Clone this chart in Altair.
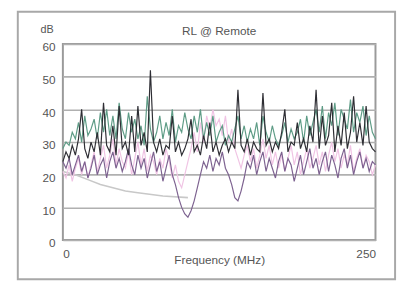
import altair as alt
import pandas as pd

freq = [i * 2.5 for i in range(101)]

dark = [24,27,25,29,26,31,40,28,25,30,
        27,33,26,42,29,27,35,26,41,28,
        30,26,38,27,41,29,33,27,52,30,
        27,31,26,29,28,38,27,30,26,28,
        31,37,27,29,26,32,28,36,27,30,
        26,29,31,27,30,28,46,29,27,31,
        26,30,28,27,45,29,31,27,30,28,
        33,40,27,30,29,36,28,31,27,35,
        30,46,28,38,29,32,42,27,35,29,
        39,28,33,44,30,36,29,41,30,28,
        27]

green = [28,30,29,33,31,36,30,38,32,34,
         37,31,39,33,40,32,38,31,42,34,
         31,39,33,37,31,35,29,44,34,30,
         33,38,31,36,32,40,30,35,33,39,
         34,31,38,33,40,31,36,32,38,30,
         33,35,29,32,30,34,38,31,35,30,
         34,31,36,29,38,33,30,35,31,29,
         32,36,30,34,31,33,37,30,38,32,
         36,40,33,41,31,39,35,42,32,40,
         37,34,43,33,39,36,41,32,38,33,
         31]

purple = [24,22,25,20,23,26,21,24,19,22,
          26,20,23,25,19,24,27,22,25,21,
          24,28,23,20,26,22,25,19,23,27,
          21,24,18,22,26,20,17,13,10,8,
          7,9,12,16,20,24,22,26,21,25,
          23,27,22,20,17,13,12,15,19,24,
          22,26,20,24,27,21,25,22,19,24,
          27,21,25,23,18,22,26,20,24,28,
          22,25,20,24,27,21,26,23,19,25,
          28,22,26,20,24,27,22,25,21,24,
          23]

pink = [21,19,23,18,22,25,20,24,19,23,
        27,21,25,29,22,26,31,23,28,24,
        22,27,20,25,30,23,28,21,26,24,
        20,25,22,28,24,19,23,18,16,20,
        24,28,33,27,36,30,38,34,40,35,
        37,32,38,30,34,28,25,22,26,29,
        24,28,22,26,31,25,29,23,27,22,
        26,21,25,29,23,27,20,24,28,22,
        25,29,23,27,21,26,30,24,28,22,
        26,23,29,21,25,28,22,26,24,20,
        23]

limit_freq = [0, 10, 20, 30, 40, 50, 60, 80, 100]
limit_db = [21, 20, 18.5, 17, 16, 15, 14.5, 13.5, 13]

y_ticks = [0, 10, 20, 30, 40, 50, 60]
x_ticks = [0, 250]

series_names = ["pink", "purple", "green", "dark"]
series_colors = ["#f0c4e4", "#7d6290", "#5e9c86", "#2e2e34"]

rows = []
for name, vals in zip(series_names, [pink, purple, green, dark]):
    for f, v in zip(freq, vals):
        rows.append({"f": f, "db": v, "s": name})
df = pd.DataFrame(rows)
lim = pd.DataFrame({"f": limit_freq, "db": limit_db})

W, H = 319, 200

xs = alt.Scale(domain=[0, 250], nice=False)
ys = alt.Scale(domain=[0, 60], nice=False)

x_axis = alt.Axis(values=x_ticks, title="Frequency (MHz)", grid=False,
                  ticks=False, domain=False, labelFont="Liberation Sans",
                  labelFontSize=12, labelColor="#555", labelPadding=14,
                  labelOverlap=False,
                  titleFont="Liberation Sans", titleFontSize=12,
                  titleFontWeight="normal", titleColor="#555",
                  titleY=20, titleBaseline="middle", labelBaseline="middle")
y_axis = alt.Axis(values=y_ticks, title=None, grid=True, gridColor="#b0b0b0",
                  gridWidth=1.6, ticks=False, domain=False,
                  labelFont="Liberation Sans", labelFontSize=12,
                  labelOverlap=False, labelOffset=3,
                  labelColor="#555", labelPadding=8)

limit_line = alt.Chart(lim).mark_line(color="#c8c8c8", strokeWidth=1.6).encode(
    x=alt.X("f:Q", scale=xs, axis=x_axis), y=alt.Y("db:Q", scale=ys, axis=y_axis)
)

lines = alt.Chart(df).mark_line(strokeWidth=1.2).encode(
    x=alt.X("f:Q", scale=xs, axis=x_axis),
    y=alt.Y("db:Q", scale=ys, axis=y_axis),
    color=alt.Color("s:N", scale=alt.Scale(domain=series_names, range=series_colors),
                    legend=None),
    order=alt.Order("s:N"),
)

frame = alt.Chart(pd.DataFrame({"a": [0]})).mark_rect(
    fill=None, stroke="#a8a8a8", strokeWidth=2
).encode(x=alt.value(-46), x2=alt.value(339), y=alt.value(-33), y2=alt.value(240))

title = alt.Chart(pd.DataFrame({"t": ["RL @ Remote"]})).mark_text(
    font="Liberation Sans", fontSize=12, color="#555", baseline="middle"
).encode(text="t:N", x=alt.value(W / 2), y=alt.value(-13))

dblab = alt.Chart(pd.DataFrame({"t": ["dB"]})).mark_text(
    font="Liberation Sans", fontSize=11, color="#555", baseline="middle", align="center"
).encode(text="t:N", x=alt.value(-16), y=alt.value(-14))

chart = alt.layer(limit_line, lines, frame, title, dblab).properties(
    width=W, height=H,
    autosize=alt.AutoSizeParams(type="none"),
    padding={"left": 56, "top": 34, "right": 24, "bottom": 41},
).configure_view(stroke="#9a9a9a", strokeWidth=2)

chart.save("out.html", embed_options={"renderer": "svg", "actions": False})
